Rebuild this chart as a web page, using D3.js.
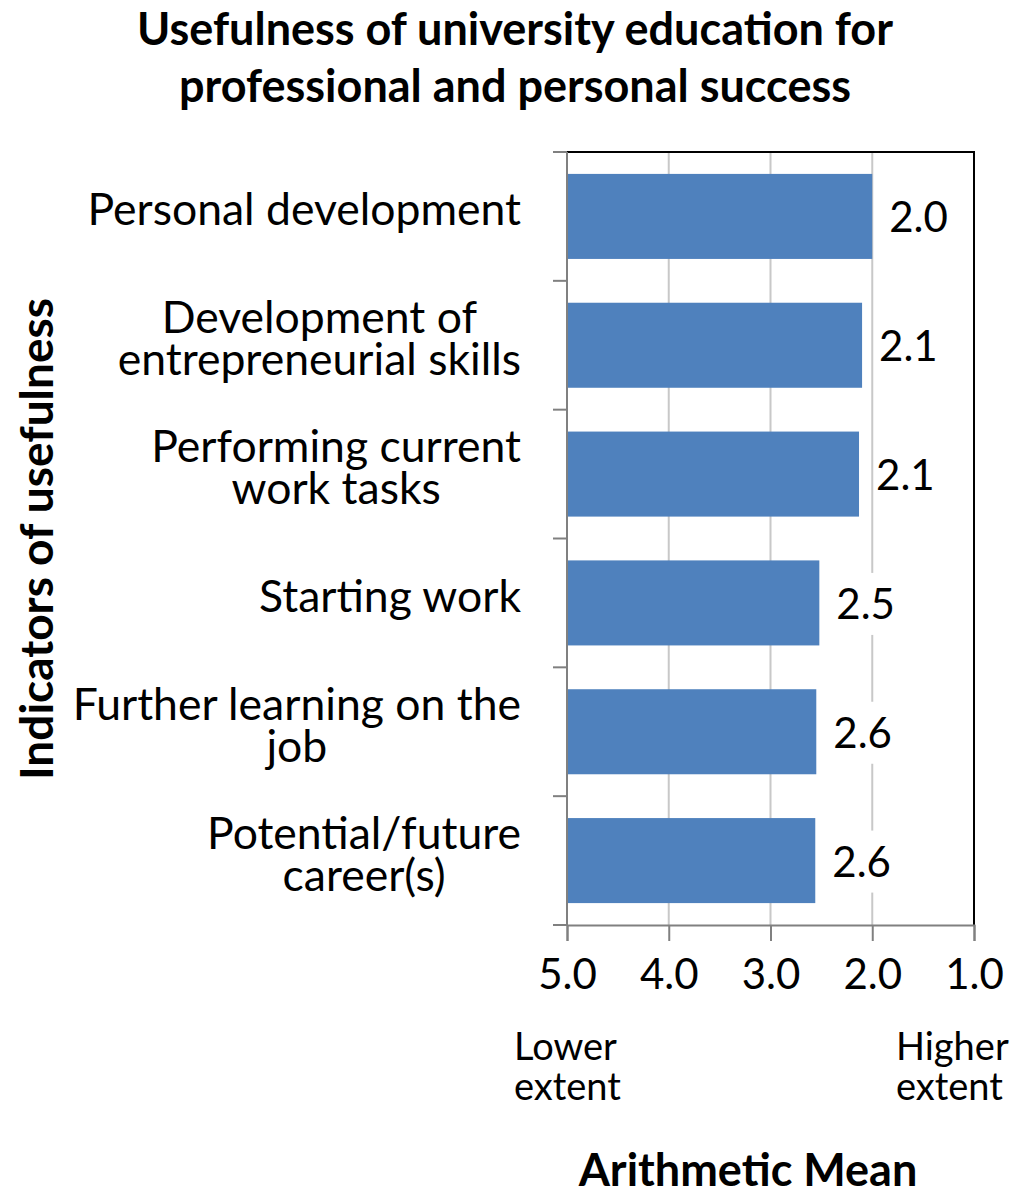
<!DOCTYPE html>
<html>
<head>
<meta charset="utf-8">
<script src="https://cdn.jsdelivr.net/npm/d3@7"></script>
<style>
  body { margin: 0; background: #fff; }
  text { font-family: Lato, "Noto Sans", sans-serif; fill: #000; }
</style>
</head>
<body>
<svg id="chart" width="1027" height="1193"></svg>
<script>
// data
var categories = [
  ["Personal development"],
  ["Development of", "entrepreneurial skills"],
  ["Performing current", "work tasks"],
  ["Starting work"],
  ["Further learning on the", "job"],
  ["Potential/future", "career(s)"]
];
var values = [2.0, 2.1, 2.13, 2.52, 2.55, 2.56];
var valueLabels = ["2.0", "2.1", "2.1", "2.5", "2.6", "2.6"];
var xTicks = [5, 4, 3, 2, 1];

var svg = d3.select("#chart");
var plotLeft = 567, plotRight = 974, plotTop = 152, plotBottom = 925;
var fontSize = 42;

var x = d3.scaleLinear().domain([5, 1]).range([plotLeft, plotRight]);
var y = d3.scaleBand()
          .domain(d3.range(categories.length))
          .range([plotTop, plotBottom])
          .paddingInner(0.34)
          .paddingOuter(0.17);

// title
svg.append("text")
    .attr("text-anchor", "middle")
    .attr("font-weight", "bold")
    .attr("font-size", 45)
  .selectAll("tspan")
  .data(["Usefulness of university education for", "professional and personal success"])
  .enter().append("tspan")
    .attr("x", 515)
    .attr("y", (d, i) => 45 + i * 57)
    .text(d => d);

// gridlines
svg.append("g")
  .selectAll("line")
  .data([4, 3, 2])
  .enter().append("line")
    .attr("x1", d => x(d)).attr("x2", d => x(d))
    .attr("y1", plotTop).attr("y2", plotBottom)
    .attr("stroke", "#c8c8c8")
    .attr("stroke-width", 2);

// bars
svg.append("g")
  .selectAll("rect")
  .data(values)
  .enter().append("rect")
    .attr("x", x(5))
    .attr("y", (d, i) => y(i))
    .attr("width", d => x(d) - x(5))
    .attr("height", y.bandwidth())
    .attr("fill", "#4f81bd");

// value labels with white backing
var vl = svg.append("g")
  .selectAll("g")
  .data(values)
  .enter().append("g")
    .attr("transform", (d, i) => "translate(" + (x(d) + 17) + "," + (y(i) + y.bandwidth() / 2) + ")");
vl.append("rect")
    .attr("x", -2).attr("y", -30)
    .attr("width", 70).attr("height", 62)
    .attr("fill", "#fff");
vl.append("text")
    .attr("y", 16)
    .attr("font-size", fontSize)
    .text((d, i) => valueLabels[i]);

// frame: top and right black
svg.append("path")
    .attr("d", "M" + plotLeft + "," + plotTop + "H" + plotRight + "V" + plotBottom)
    .attr("fill", "none")
    .attr("stroke", "#000")
    .attr("stroke-width", 2);

// y axis with boundary ticks
var yg = svg.append("g");
yg.append("line")
    .attr("x1", plotLeft).attr("x2", plotLeft)
    .attr("y1", plotTop).attr("y2", plotBottom)
    .attr("stroke", "#808080").attr("stroke-width", 2);
yg.selectAll(".tick")
  .data(d3.range(categories.length + 1))
  .enter().append("line")
    .attr("x1", plotLeft - 14).attr("x2", plotLeft)
    .attr("y1", i => plotTop + i * (plotBottom - plotTop) / categories.length)
    .attr("y2", i => plotTop + i * (plotBottom - plotTop) / categories.length)
    .attr("stroke", "#808080").attr("stroke-width", 2);

// x axis
var xAxis = d3.axisBottom(x)
    .tickValues(xTicks)
    .tickSize(16)
    .tickPadding(18)
    .tickFormat(d3.format(".1f"));
var xg = svg.append("g")
    .attr("transform", "translate(0," + plotBottom + ")")
    .call(xAxis);
xg.select(".domain").attr("stroke", "#808080").attr("stroke-width", 2);
xg.selectAll(".tick line").attr("stroke", "#808080").attr("stroke-width", 2);
xg.selectAll(".tick text")
    .attr("font-size", fontSize)
    .attr("font-family", "Lato, 'Noto Sans', sans-serif")
    .attr("fill", "#000");

// category labels: block right aligned, lines centered within
var labelRight = 521;
categories.forEach(function(lines, i) {
  var cy = y(i) + y.bandwidth() / 2 - 5;
  var t = svg.append("text")
      .attr("font-size", 44.5)
      .attr("text-anchor", "middle");
  var lineH = 42;
  lines.forEach(function(l, j) {
    t.append("tspan")
      .attr("x", 0)
      .attr("y", cy + 14 + (j - (lines.length - 1) / 2) * lineH)
      .text(l);
  });
  var w = d3.max(t.selectAll("tspan").nodes(), n => n.getComputedTextLength());
  t.attr("transform", "translate(" + (labelRight - w / 2) + ",0)");
});

// extent notes
[["Lower", "extent", 514], ["Higher", "extent", 896]].forEach(function(n) {
  var t = svg.append("text").attr("font-size", 38);
  t.append("tspan").attr("x", n[2]).attr("y", 1060).text(n[0]);
  t.append("tspan").attr("x", n[2]).attr("y", 1100).text(n[1]);
});

// axis titles
svg.append("text")
    .attr("x", 748).attr("y", 1186)
    .attr("text-anchor", "middle")
    .attr("font-weight", "bold")
    .attr("font-size", 45)
    .text("Arithmetic Mean");

svg.append("text")
    .attr("transform", "translate(53,539) rotate(-90)")
    .attr("text-anchor", "middle")
    .attr("font-weight", "bold")
    .attr("font-size", 46)
    .text("Indicators  of usefulness");
</script>
</body>
</html>
